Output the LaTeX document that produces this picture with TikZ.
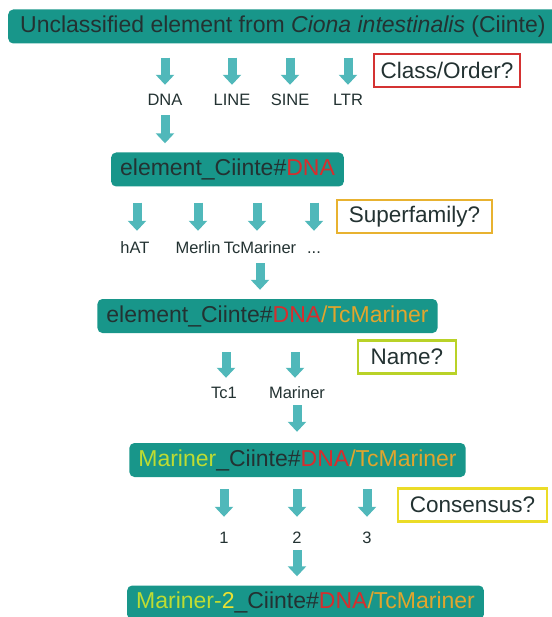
\documentclass[tikz,border=0pt]{standalone}
\usepackage{fontspec}
\setmainfont{Liberation Sans}
\usetikzlibrary{positioning}
\usetikzlibrary{arrows.meta}

\definecolor{boxteal}{RGB}{24,150,138}
\definecolor{arrowteal}{RGB}{80,184,186}
\definecolor{inkdark}{RGB}{35,50,50}
\definecolor{dnared}{RGB}{215,45,45}
\definecolor{tcorange}{RGB}{225,165,45}
\definecolor{margreen}{RGB}{190,220,50}
\definecolor{twoyellow}{RGB}{235,225,50}
\definecolor{classred}{RGB}{212,50,50}
\definecolor{superorange}{RGB}{232,178,48}
\definecolor{namelime}{RGB}{185,210,40}
\definecolor{consyellow}{RGB}{235,220,40}

\newcommand{\dnatag}{\textcolor{dnared}{DNA}}
\newcommand{\tctag}{\textcolor{tcorange}{/TcMariner}}

\tikzset{
  namebox/.style={rounded corners=5pt, fill=boxteal, text=inkdark, inner xsep=9pt,
    inner ysep=0pt, minimum height=34pt, font=\fontsize{23}{27}\selectfont},
  question/.style={draw=#1, line width=2.5pt, fill=white, text=inkdark, inner sep=0pt,
    minimum height=33pt, font=\fontsize{22.5}{26}\selectfont},
  choice/.style={text=inkdark, inner sep=0pt, text height=12pt, text depth=0pt,
    font=\fontsize{16.5}{19}\selectfont},
  flow/.style={draw=arrowteal, line width=9pt, -{Triangle[width=18pt,length=10pt]}}
}

\begin{document}
\begin{tikzpicture}[x=1pt, y=-1pt]
  \useasboundingbox (0,0) rectangle (551,617);

  % Boxes
  \node[namebox, anchor=west, inner xsep=12pt] (unclass) at (8,26.5)
    {Unclassified element from \textit{Ciona intestinalis} (Ciinte)};
  \node[namebox] (elemdna) at (227.5,169.5) {element\_Ciinte\#\dnatag};
  \node[namebox] (elemtc) at (267.5,316) {element\_Ciinte\#\dnatag\tctag};
  \node[namebox] (marbox) at (297.5,460) {\textcolor{margreen}{Mariner}\_Ciinte\#\dnatag\tctag};
  \node[namebox] (mar2box) at (305.5,602.5)
    {\textcolor{margreen}{Mariner-}\textcolor{twoyellow}{2}\_Ciinte\#\dnatag\tctag};

  % Questions
  \node[question=classred, minimum width=146pt] (qclass) at (447,70.5) {Class/Order?};
  \node[question=superorange, minimum width=155pt] (qsuper) at (414.5,216.5) {Superfamily?};
  \node[question=namelime, minimum width=98pt] (qname) at (407,357) {Name?};
  \node[question=consyellow, minimum width=149pt] (qcons) at (472.5,505) {Consensus?};

  % Choices
  \node[choice] (dna) at (165,100) {DNA};
  \node[choice] (line) at (232,100) {LINE};
  \node[choice] (sine) at (290,100) {SINE};
  \node[choice] (ltr) at (348,100) {LTR};

  \node[choice] (hat) at (135,248) {hAT};
  \node[choice] (merlin) at (198,248) {Merlin};
  \node[choice] (tcmar) at (260,248) {TcMariner};
  \node[choice] (more) at (314,248) {...};

  \node[choice] (tcone) at (224,392) {Tc1};
  \node[choice] (mariner) at (297,392) {Mariner};

  \node[choice] (cone) at (224,537) {1};
  \node[choice] (ctwo) at (297,537) {2};
  \node[choice] (cthree) at (367,537) {3};

  % Arrows
  \foreach \c in {dna, line, sine, ltr}
    \draw[flow, shorten <=14pt, shorten >=9pt] (unclass.south -| \c.north) -- (\c.north);
  \draw[flow, shorten <=9pt, shorten >=9pt] (dna.south) -- (dna.south |- elemdna.north);

  \foreach \c/\dx in {hat/2, merlin/0, tcmar/-3, more/0}
    \draw[flow, shorten <=16pt, shorten >=11pt] ([xshift=\dx pt]elemdna.south -| \c.north) -- ([xshift=\dx pt]\c.north);
  \draw[flow, shorten <=9pt, shorten >=9pt] (tcmar.south) -- (tcmar.south |- elemtc.north);

  \foreach \c/\dx in {tcone/2, mariner/-2}
    \draw[flow, shorten <=19pt, shorten >=8pt] ([xshift=\dx pt]elemtc.south -| \c.north) -- ([xshift=\dx pt]\c.north);
  \draw[flow, shorten <=7pt, shorten >=11pt] (mariner.south) -- (mariner.south |- marbox.north);

  \foreach \c in {cone, ctwo, cthree}
    \draw[flow, shorten <=12pt, shorten >=14pt] (marbox.south -| \c.north) -- (\c.north);
  \draw[flow, shorten <=7pt, shorten >=9pt] (ctwo.south) -- (ctwo.south |- mar2box.north);
\end{tikzpicture}
\end{document}
